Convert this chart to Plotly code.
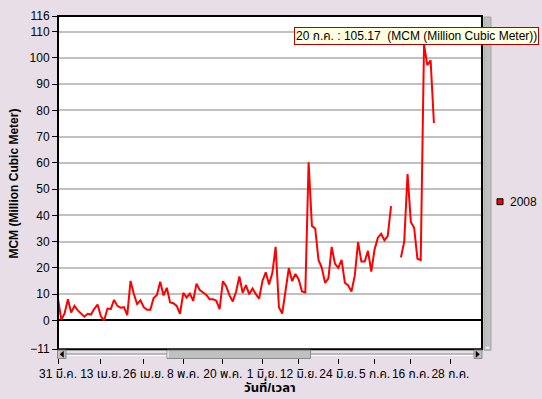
import pandas as pd
import plotly.graph_objects as go

# ---- data ----
dates = pd.date_range("2008-03-31", "2008-07-23", freq="D")
values = [
    8.2, 0.3, 2.6, 8.0, 3.0, 5.5, 3.8, 2.6, 1.4, 2.5,
    2.2, 4.4, 6.0, 1.5, 0.0, 4.5, 4.3, 7.8, 5.5, 4.8,
    5.0, 2.0, 15.0, 10.0, 6.2, 7.6, 5.0, 4.0, 4.0, 8.5,
    9.7, 14.7, 9.5, 12.4, 6.8, 6.5, 5.5, 2.5, 10.5, 8.7,
    10.2, 7.4, 14.0, 11.5, 10.5, 9.7, 8.0, 8.0, 7.5, 4.3,
    14.9, 13.0, 9.5, 7.2, 10.9, 16.7, 10.5, 13.4, 9.9, 12.1,
    10.0, 8.3, 15.0, 18.3, 13.7, 18.0, 28.0, 5.0, 2.6, 11.2,
    19.9, 15.0, 17.7, 15.6, 11.0, 10.6, 60.2, 36.0, 35.0, 23.0,
    20.0, 14.3, 16.0, 28.0, 21.5, 20.0, 23.0, 14.3, 13.3, 11.0,
    17.0, 29.8, 22.4, 22.4, 26.5, 18.6, 27.0, 31.5, 33.0, 30.5,
    32.2, 43.5, None, None, 24.0, 30.0, 55.8, 37.5, 35.3, 23.5,
    23.0, 105.17, 97.3, 99.1, 75.2,
]
series_name = "2008"

x_tick_dates = ["2008-03-31", "2008-04-13", "2008-04-26", "2008-05-08", "2008-05-20",
                "2008-06-01", "2008-06-12", "2008-06-24", "2008-07-05", "2008-07-16",
                "2008-07-28"]
x_tick_labels = ["31 มี.ค.", "13 เม.ย.", "26 เม.ย.", "8 พ.ค.", "20 พ.ค.", "1 มิ.ย.",
                 "12 มิ.ย.", "24 มิ.ย.", "5 ก.ค.", "16 ก.ค.", "28 ก.ค."]
y_ticks = [-11, 0, 10, 20, 30, 40, 50, 60, 70, 80, 90, 100, 110, 116]

y_title = "MCM (Million Cubic Meter)"
x_title = "วันที่/เวลา"
tooltip = "20 ก.ค. : 105.17\u00a0\u00a0(MCM (Million Cubic Meter))"

# ---- layout geometry (pixels) ----
W, H = 542, 399
ML, MR, MT, MB = 58, 60, 9, 41
PW = W - ML - MR
PH = H - MT - MB
plot_bottom_px = 349
ydom0 = (H - MB - plot_bottom_px) / PH

def px2x(px):
    return (px - ML) / PW

def px2y(py):
    return (H - MB - py) / PH

BG = "#E7DEE7"
FONT = "Arial, 'Liberation Sans', 'Noto Sans Thai', Tahoma, sans-serif"

fig = go.Figure()
fig.add_trace(go.Scatter(
    x=dates, y=values, mode="lines", name=series_name,
    line=dict(color="#FF0000", width=2), connectgaps=False, showlegend=False,
))

shapes = []
# plot border
shapes.append(dict(type="rect", xref="paper", yref="paper", x0=0, x1=1, y0=ydom0, y1=1,
                   line=dict(color="black", width=2), layer="above"))
# horizontal scrollbar track line
shapes.append(dict(type="line", xref="paper", yref="paper", x0=px2x(66), x1=px2x(474),
                   y0=px2y(354), y1=px2y(354), line=dict(color="#B8B8B8", width=2)))
shapes.append(dict(type="line", xref="paper", yref="paper", x0=px2x(66), x1=px2x(474),
                   y0=px2y(355.5), y1=px2y(355.5), line=dict(color="#FFFFFF", width=1)))
# buttons + thumb
for a, b in [(57.5, 66), (474, 482), (167, 310.5)]:
    shapes.append(dict(type="rect", xref="paper", yref="paper", x0=px2x(a), x1=px2x(b),
                       y0=px2y(358.5), y1=px2y(350), fillcolor="#C0C0C0",
                       line=dict(color="#8A8A8A", width=1)))
shapes.append(dict(type="line", xref="paper", yref="paper", x0=px2x(168), x1=px2x(168),
                   y0=px2y(357.5), y1=px2y(351), line=dict(color="#FFFFFF", width=1)))
# arrows
def tri(pts):
    p = "M " + " L ".join(f"{px2x(a)},{px2y(b)}" for a, b in pts) + " Z"
    return dict(type="path", xref="paper", yref="paper", path=p,
                fillcolor="black", line=dict(color="black", width=0.5))
shapes.append(tri([(60, 354.2), (63.5, 351.2), (63.5, 357.2)]))
shapes.append(tri([(479.5, 354.2), (476, 351.2), (476, 357.2)]))
# vertical scrollbar
shapes.append(dict(type="rect", xref="paper", yref="paper", x0=px2x(484), x1=px2x(491),
                   y0=px2y(350), y1=px2y(10), fillcolor="#BEC0BE",
                   line=dict(color="#A4A6A4", width=1)))
shapes.append(dict(type="line", xref="paper", yref="paper", x0=px2x(485.5), x1=px2x(489.5),
                   y0=px2y(347.5), y1=px2y(347.5), line=dict(color="#EEEEEE", width=2)))
# legend marker
shapes.append(dict(type="rect", xref="paper", yref="paper", x0=px2x(497), x1=px2x(503),
                   y0=px2y(201.5), y1=px2y(195.5), fillcolor="#FF0000",
                   line=dict(color="black", width=1)))

annotations = [
    dict(text=f"<b>{y_title}</b>", xref="paper", yref="paper", x=px2x(14), y=px2y(180),
         textangle=-90, showarrow=False, xanchor="center", yanchor="middle",
         font=dict(size=12, color="black", family=FONT)),
    dict(text=f"<b>{x_title}</b>", xref="paper", yref="paper", x=px2x(270), y=px2y(387),
         showarrow=False, xanchor="center", yanchor="middle",
         font=dict(size=13, color="black", family=FONT)),
    dict(text=tooltip, xref="paper", yref="paper", x=px2x(294), y=px2y(29.5),
         showarrow=False, xanchor="left", yanchor="middle", bgcolor="#FFFFE1",
         bordercolor="#B00000", borderwidth=1, borderpad=1,
         font=dict(size=12, color="black", family=FONT)),
    dict(text=series_name, xref="paper", yref="paper", x=px2x(508), y=px2y(198.5),
         showarrow=False, xanchor="left", yanchor="middle",
         font=dict(size=12, color="black", family=FONT)),
]

fig.update_layout(
    width=W, height=H,
    margin=dict(l=ML, r=MR, t=MT, b=MB, pad=0),
    paper_bgcolor=BG, plot_bgcolor="white",
    showlegend=False,
    font=dict(family=FONT, size=12, color="black"),
    xaxis=dict(type="date", range=["2008-03-31 00:00", "2008-08-06 14:00"],
               anchor="free", position=0, showgrid=False, zeroline=False, showline=False,
               ticks="outside", ticklen=5, tickcolor="black", tickwidth=1,
               tickvals=x_tick_dates, ticktext=x_tick_labels, tickangle=0,
               tickfont=dict(size=12, family=FONT, color="black")),
    yaxis=dict(domain=[ydom0, 1], range=[-11, 116], tickvals=y_ticks,
               ticks="outside", ticklen=5, tickcolor="black", tickwidth=1,
               showgrid=True, gridcolor="#C0C0C0", gridwidth=1.5,
               zeroline=True, zerolinecolor="black", zerolinewidth=1.5,
               showline=False, tickfont=dict(size=12, family=FONT, color="black")),
    shapes=shapes, annotations=annotations,
)

fig.write_html(
    "out.html",
    config={"displayModeBar": False},
    post_script="document.body.style.margin='0';document.body.style.padding='0';"
                "document.body.style.background='" + BG + "';",
)
